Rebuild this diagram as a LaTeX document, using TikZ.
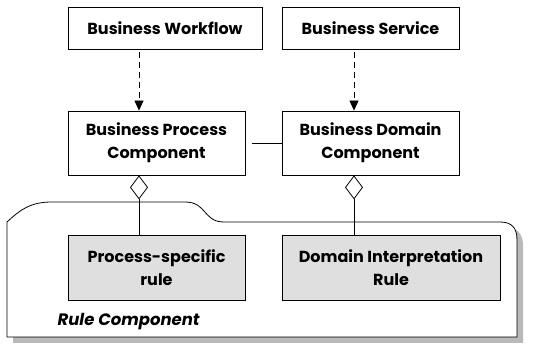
\documentclass[tikz,border=0pt]{standalone}
\usepackage{fontspec}
\setmainfont{Poppins}
\usetikzlibrary{arrows.meta}
\begin{document}
\begin{tikzpicture}[x=1pt,y=1pt,
    boite/.style={draw,thick,minimum height=42,align=center,font=\bfseries\fontsize{16}{23}\selectfont},
    regle/.style={boite,fill=gray!25,minimum height=65},
    dep/.style={thick,dash pattern=on 6pt off 4pt,-{Triangle[length=10,width=9]}},
    agg/.style={thick,-{Diamond[open,fill=white,length=24,width=18]}}]
    \useasboundingbox (0,0) rectangle (551,350);
    \def\paquet{(7,13) -- (7,128) .. controls (20,140) and (30,148) .. (52,148) -- (185,148) .. controls (207,148) and (203,128) .. (224,128) -- (500,128) .. controls (512,128) and (517,122) .. (517,110) -- (517,13) -- cycle}
    \fill [gray!55,shift={(6,-6)}]\paquet;%ombre
    \draw [thick,fill=white]\paquet;
    \coordinate (pcol) at (139,0);
    \coordinate (dcol) at (354,0);
    \node[boite,minimum width=194] (bw) at (165,322) {Business Workflow};
    \node[boite,minimum width=177] (bs) at (370.5,322) {Business Service};
    \node[boite,minimum width=177,minimum height=64] (bpc) at (156.5,207) {Business Process\\Component};
    \node[boite,minimum width=177,minimum height=64] (bdc) at (370.5,207) {Business Domain\\Component};
    \node[regle,minimum width=177] (psr) at (156.5,82.5) {Process-specific\\rule};
    \node[regle,minimum width=218] (dir) at (391,82.5) {Domain Interpretation\\Rule};
    \node[anchor=west,font=\bfseries\itshape\fontsize{16.5}{18}\selectfont] (rc) at (54,28) {Rule Component};
    \draw[dep] ([yshift=-3]bw.south -| pcol) -- (bpc.north -| pcol);
    \draw[dep] ([yshift=-3]bs.south -| dcol) -- (bdc.north -| dcol);
    \draw[thick,shorten <=7] (bpc.east) -- (bdc.west);
    \draw[agg] (psr.north -| pcol) -- (bpc.south -| pcol);
    \draw[agg] (dir.north -| dcol) -- (bdc.south -| dcol);
\end{tikzpicture}
\end{document}
